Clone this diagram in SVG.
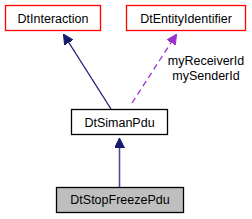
<svg xmlns="http://www.w3.org/2000/svg" width="252" height="219" viewBox="0 0 252 219">
<defs>
<style>
.box{stroke-width:1.3}
.red{fill:#fff;stroke:#ff0000}
.blk{fill:#fff;stroke:#000}
.cur{fill:#bfbfbf;stroke:#000}
text{font-family:"Liberation Sans",Arial,sans-serif;font-size:12.5px;fill:#000}
.lbl{text-anchor:middle}
.inh{stroke:#191970;stroke-width:1.3;fill:none}
.use{stroke:#9a32cd;stroke-width:1.3;fill:none;stroke-dasharray:6,4}
</style>
<marker id="ah" markerWidth="10" markerHeight="10" refX="9" refY="5" orient="auto" markerUnits="userSpaceOnUse" viewBox="0 0 10 10"><path d="M0,0 L10,5 L0,10 z" fill="#191970" stroke="#191970"/></marker>
<marker id="ap" markerWidth="10" markerHeight="10" refX="9" refY="5" orient="auto" markerUnits="userSpaceOnUse" viewBox="0 0 10 10"><path d="M0,0 L10,5 L0,10 z" fill="#9a32cd" stroke="#9a32cd"/></marker>
</defs>
<rect width="252" height="219" fill="#fff"/>
<g id="connectors">
<path class="inh" d="M111,109 L64,35" marker-end="url(#ah)"/>
<path class="use" d="M132,103 L176,35" marker-end="url(#ap)"/>
<path class="inh" d="M119.5,187 L119.5,139" marker-end="url(#ah)" style="stroke:#4b4b9c;stroke-width:1.6"/>
<text class="lbl" x="206" y="65">myReceiverId</text>
<text class="lbl" x="206" y="80">mySenderId</text>
</g>
<g id="DtInteraction"><rect class="box red" x="5.5" y="5.5" width="95" height="25"/><text class="lbl" x="53" y="22.5">DtInteraction</text></g>
<g id="DtEntityIdentifier"><rect class="box red" x="126.5" y="5.5" width="119" height="25"/><text class="lbl" x="186" y="22.5">DtEntityIdentifier</text></g>
<g id="DtSimanPdu"><rect class="box blk" x="71.5" y="109.5" width="96" height="25"/><text class="lbl" x="119.5" y="126.5">DtSimanPdu</text></g>
<g id="DtStopFreezePdu"><rect class="box cur" x="56.5" y="187.5" width="127" height="25"/><text class="lbl" x="120" y="204">DtStopFreezePdu</text></g>
</svg>
